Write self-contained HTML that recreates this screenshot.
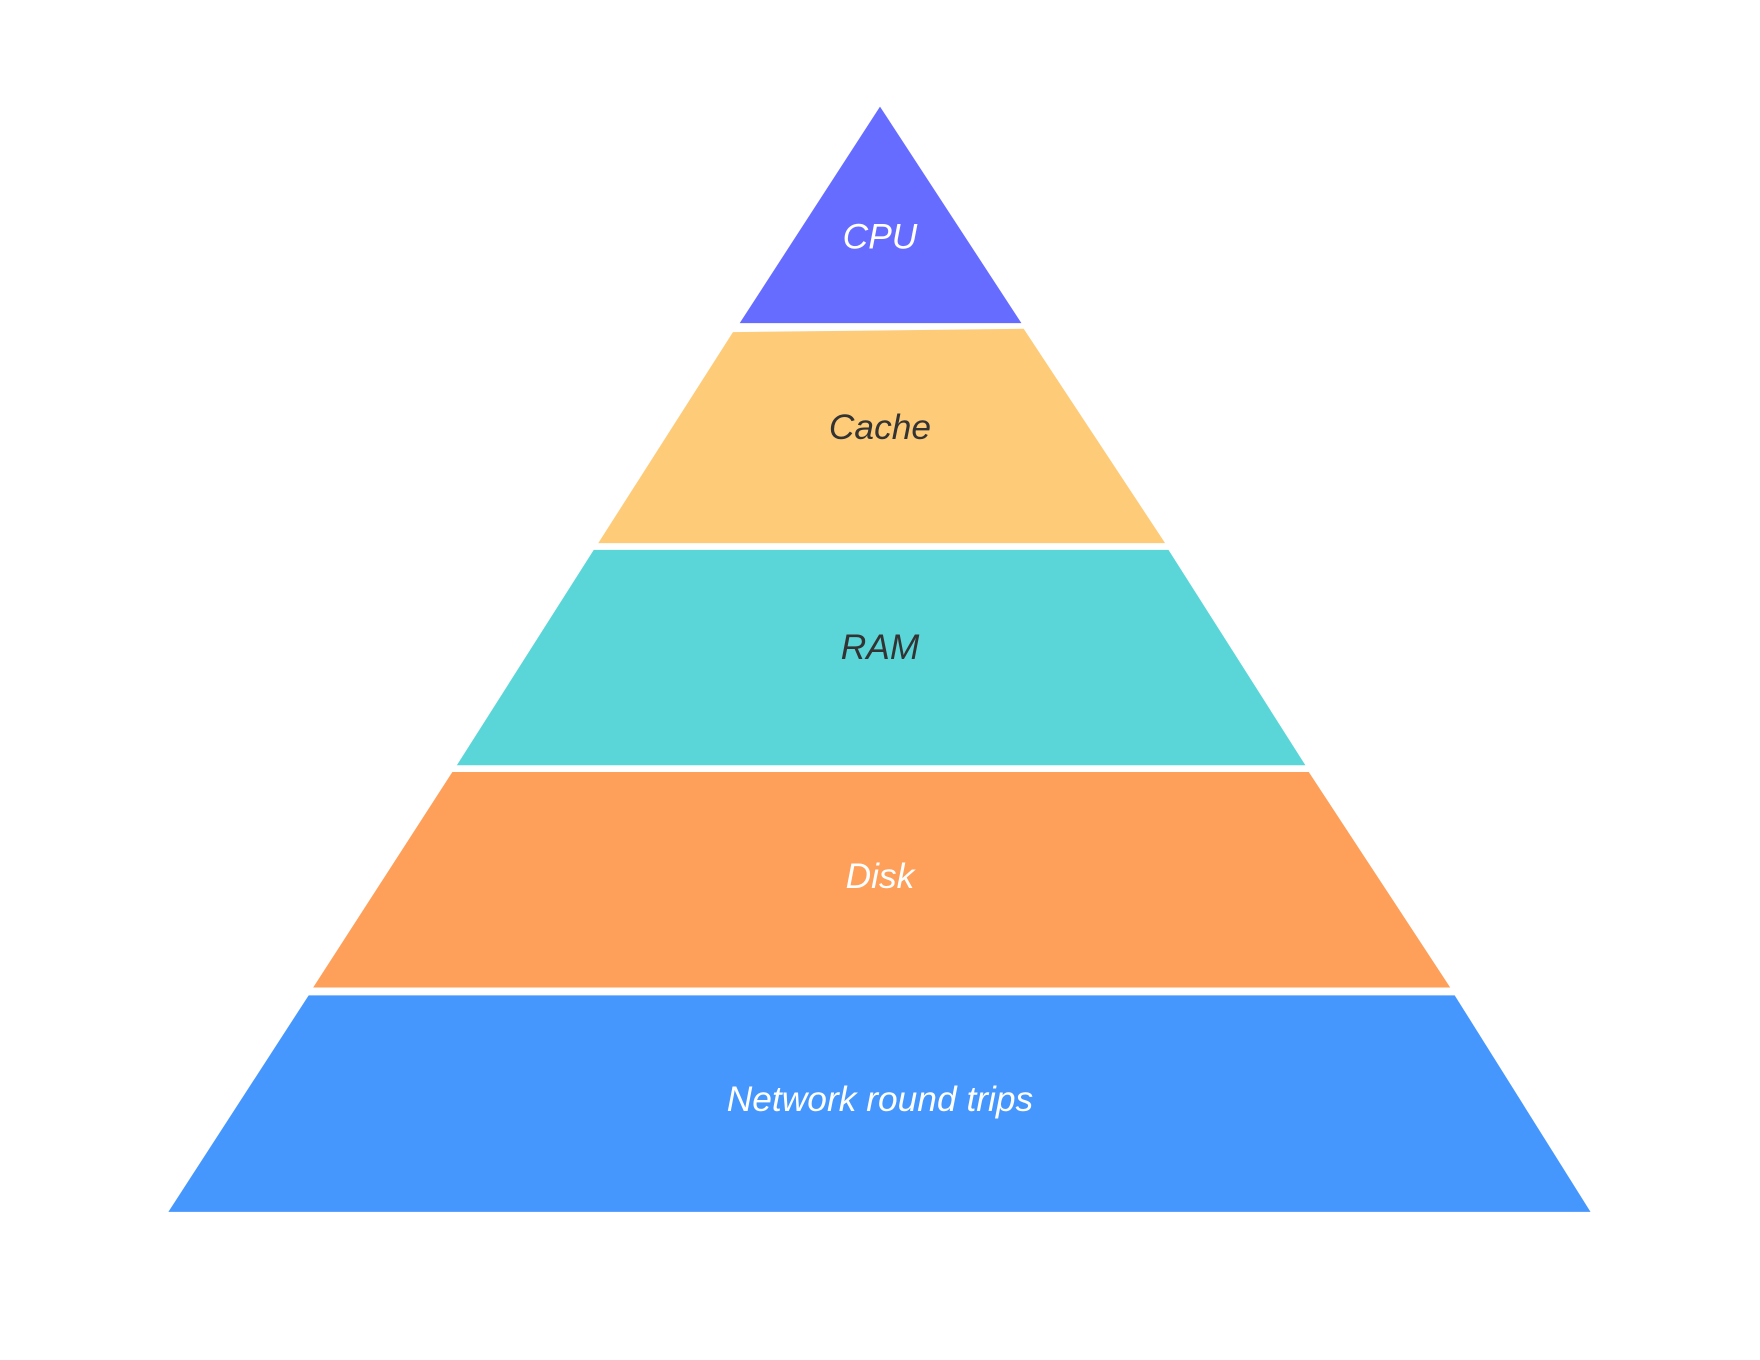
<!DOCTYPE html>
<html><head><meta charset="utf-8"><style>
html,body{margin:0;padding:0;background:#fff;}
svg{display:block;}
text{font-family:"Liberation Sans",sans-serif;font-style:italic;font-size:31.5px;text-anchor:middle;dominant-baseline:central;}
</style></head><body>
<svg width="1760" height="1360" viewBox="0 0 1568 1212" preserveAspectRatio="none" xmlns="http://www.w3.org/2000/svg">
<rect width="1568" height="1212" fill="#fff"/>
<polygon points="784,95 910,288 659,288" fill="#666cff"/>
<polygon points="653,296 912,293 1038,484 533,484" fill="#fecb78"/>
<polygon points="529,490 1041,490 1163,682 407,682" fill="#5ad6d8"/>
<polygon points="403,688 1166,688 1292,880 279,880" fill="#fe9f5a"/>
<polygon points="275,887 1296,887 1417,1080 150,1080" fill="#4597fe"/>
<text x="784" y="211" fill="#fff">CPU</text>
<text x="784" y="381" fill="#333">Cache</text>
<text x="784" y="577" fill="#333">RAM</text>
<text x="784" y="781" fill="#fff">Disk</text>
<text x="784" y="980" fill="#fff">Network round trips</text>
</svg>
</body></html>
